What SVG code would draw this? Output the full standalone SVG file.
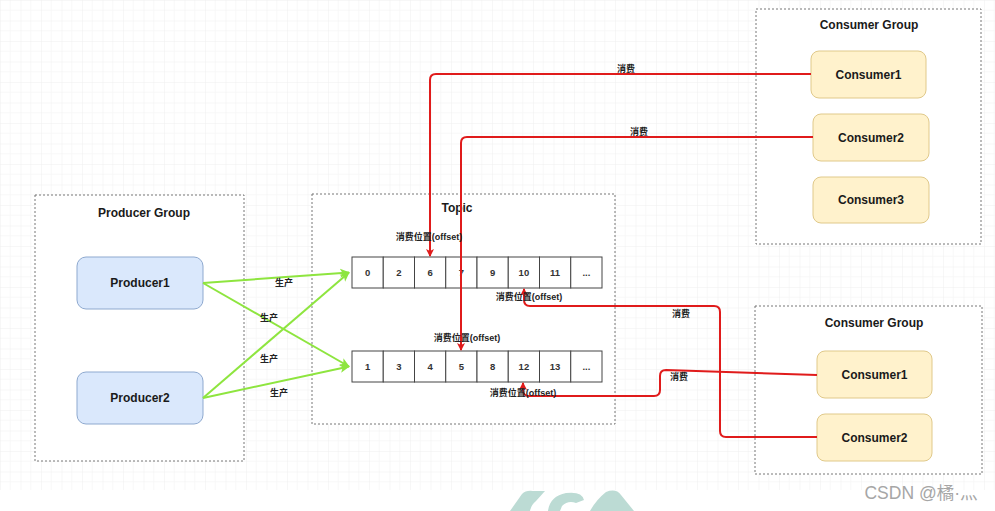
<svg xmlns="http://www.w3.org/2000/svg" width="995" height="511" viewBox="0 0 995 511">
<defs>
<pattern id="grid" width="20.5" height="20.5" patternUnits="userSpaceOnUse">
<path d="M10.25,0 V20.5 M0,10.25 H20.5" stroke="#f8f8f8" stroke-width="1" fill="none"/>
<path d="M0,0 V20.5 M0,0 H20.5" stroke="#efefef" stroke-width="1" fill="none"/>
</pattern>
<marker id="ar" markerWidth="8" markerHeight="8" refX="7" refY="4" orient="auto" markerUnits="userSpaceOnUse">
<path d="M0,0 L8,4 L0,8 L2,4 Z" fill="#e01b1b"/>
</marker>
<marker id="ag" markerWidth="10" markerHeight="10" refX="9" refY="5" orient="auto" markerUnits="userSpaceOnUse">
<path d="M0,0.5 L10,5 L0,9.5 L2.5,5 Z" fill="#8ee53f"/>
</marker>
</defs>
<style>
text{font-family:"Liberation Sans","Noto Sans CJK SC",sans-serif;fill:#1a1a1a;text-anchor:middle;dominant-baseline:central}
.grp{fill:#fff;stroke:#777;stroke-width:1;stroke-dasharray:2 2}
.prod{fill:#dae8fc;stroke:#8ea9cf;stroke-width:1}
.cons{fill:#fff2cc;stroke:#e0c98a;stroke-width:1}
.cell{fill:#fff;stroke:#444;stroke-width:1}
.t{font-size:12px;font-weight:bold}
.n{font-size:9.5px;font-weight:bold;fill:#333}
.l{font-size:9px;font-weight:bold;fill:#222}
.red{fill:none;stroke:#e01b1b;stroke-width:2;marker-end:url(#ar)}
.grn{fill:none;stroke:#8ee53f;stroke-width:2;marker-end:url(#ag)}
</style>
<rect x="0" y="0" width="995" height="490" fill="url(#grid)"/>
<rect x="0" y="490" width="995" height="21" fill="#fff"/>

<g id="producer-group">
<rect class="grp" x="35" y="195" width="209" height="266"/>
<text class="t" x="144" y="213">Producer Group</text>
</g>
<g id="producer1">
<rect class="prod" x="77" y="257" width="126" height="52" rx="9"/>
<text class="t" x="140" y="283">Producer1</text>
</g>
<g id="producer2">
<rect class="prod" x="77" y="372" width="126" height="52" rx="9"/>
<text class="t" x="140" y="398">Producer2</text>
</g>

<g id="topic">
<rect class="grp" x="312" y="194" width="303" height="230"/>
<text class="t" x="457" y="208">Topic</text>
</g>
<g id="queue1">
<rect class="cell" x="352" y="257" width="31.25" height="31"/>
<rect class="cell" x="383.25" y="257" width="31.25" height="31"/>
<rect class="cell" x="414.5" y="257" width="31.25" height="31"/>
<rect class="cell" x="445.75" y="257" width="31.25" height="31"/>
<rect class="cell" x="477" y="257" width="31.25" height="31"/>
<rect class="cell" x="508.25" y="257" width="31.25" height="31"/>
<rect class="cell" x="539.5" y="257" width="31.25" height="31"/>
<rect class="cell" x="570.75" y="257" width="31.25" height="31"/>
<text class="n" x="367.6" y="272.5">0</text>
<text class="n" x="398.9" y="272.5">2</text>
<text class="n" x="430.1" y="272.5">6</text>
<text class="n" x="461.4" y="272.5">7</text>
<text class="n" x="492.6" y="272.5">9</text>
<text class="n" x="523.9" y="272.5">10</text>
<text class="n" x="555.1" y="272.5">11</text>
<text class="n" x="586.4" y="272.5">...</text>
</g>
<g id="queue2">
<rect class="cell" x="352" y="351" width="31.25" height="31"/>
<rect class="cell" x="383.25" y="351" width="31.25" height="31"/>
<rect class="cell" x="414.5" y="351" width="31.25" height="31"/>
<rect class="cell" x="445.75" y="351" width="31.25" height="31"/>
<rect class="cell" x="477" y="351" width="31.25" height="31"/>
<rect class="cell" x="508.25" y="351" width="31.25" height="31"/>
<rect class="cell" x="539.5" y="351" width="31.25" height="31"/>
<rect class="cell" x="570.75" y="351" width="31.25" height="31"/>
<text class="n" x="367.6" y="366.5">1</text>
<text class="n" x="398.9" y="366.5">3</text>
<text class="n" x="430.1" y="366.5">4</text>
<text class="n" x="461.4" y="366.5">5</text>
<text class="n" x="492.6" y="366.5">8</text>
<text class="n" x="523.9" y="366.5">12</text>
<text class="n" x="555.1" y="366.5">13</text>
<text class="n" x="586.4" y="366.5">...</text>
</g>

<g id="consumer-group-1">
<rect class="grp" x="756" y="9" width="225" height="235"/>
<text class="t" x="869" y="25">Consumer Group</text>
</g>
<g id="g1-consumer1">
<rect class="cons" x="811" y="51" width="115" height="47" rx="8"/>
<text class="t" x="868.5" y="74.5">Consumer1</text>
</g>
<g id="g1-consumer2">
<rect class="cons" x="813" y="114" width="116" height="47" rx="8"/>
<text class="t" x="871" y="137.5">Consumer2</text>
</g>
<g id="g1-consumer3">
<rect class="cons" x="813" y="177" width="116" height="46" rx="8"/>
<text class="t" x="871" y="200">Consumer3</text>
</g>

<g id="consumer-group-2">
<rect class="grp" x="755" y="306" width="227" height="168"/>
<text class="t" x="874" y="323">Consumer Group</text>
</g>
<g id="g2-consumer1">
<rect class="cons" x="817" y="351" width="115" height="47" rx="8"/>
<text class="t" x="874.5" y="374.5">Consumer1</text>
</g>
<g id="g2-consumer2">
<rect class="cons" x="817" y="414" width="115" height="47" rx="8"/>
<text class="t" x="874.5" y="437.5">Consumer2</text>
</g>

<g id="connectors">
<path class="grn" d="M203,283 L349,272.5"/>
<path class="grn" d="M203,283 L349,366.5"/>
<path class="grn" d="M203,398 L349,272.5"/>
<path class="grn" d="M203,398 L349,366.5"/>
<path class="red" d="M811,74 L436,74 Q430,74 430,80 L430,256"/>
<path class="red" d="M813,137 L467,137 Q461,137 461,143 L461,350"/>
<path class="red" d="M817,437 L726,437 Q720,437 720,431 L720,312 Q720,306 714,306 L530,306 Q524,306 524,300 L524,289"/>
<path class="red" d="M817,375 L666,370 Q660,370 660,376 L660,390 Q660,396 654,396 L529,396 Q523,396 523,390 L523,383"/>
</g>

<g id="labels">
<text class="l" x="284" y="283">生产</text>
<text class="l" x="269" y="318">生产</text>
<text class="l" x="269" y="359">生产</text>
<text class="l" x="279" y="393">生产</text>
<text class="l" x="626" y="69">消费</text>
<text class="l" x="639" y="132">消费</text>
<text class="l" x="681" y="314">消费</text>
<text class="l" x="679" y="377">消费</text>
<text class="l" x="429" y="237">消费位置(offset)</text>
<text class="l" x="529" y="297">消费位置(offset)</text>
<text class="l" x="467" y="338">消费位置(offset)</text>
<text class="l" x="523" y="393">消费位置(offset)</text>
</g>

<g id="watermark">
<path d="M510,511 L522,494 Q526,490 533,491 L545,491 L536,501 Q531,505 530,511 Z" fill="#bcdbd4"/>
<path d="M548,511 Q550,496 566,493 Q582,491 584,500 L576,503 Q568,500 562,506 L560,511 Z" fill="#bcdbd4"/>
<path d="M590,511 Q596,500 606,492 Q616,488 621,495 L634,511 Z" fill="#bcdbd4"/>
<text x="921" y="493" style="font-size:17.5px;fill:#a6a6a6;font-weight:normal;font-family:'Liberation Sans','Noto Sans CJK SC',sans-serif">CSDN @橘·灬</text>
</g>
</svg>
